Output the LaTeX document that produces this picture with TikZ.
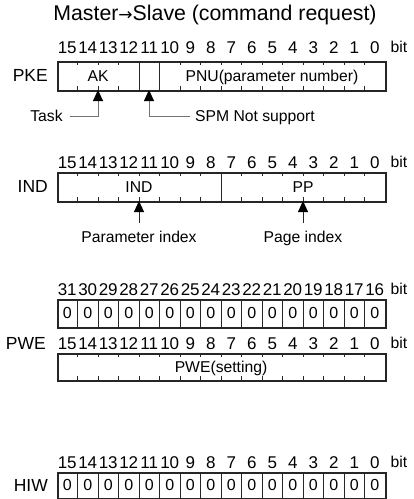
\documentclass[tikz,border=0pt]{standalone}
\usepackage{fontspec}
\setmainfont{Liberation Sans}
\newfontfamily\mysymfont{DejaVu Sans}
\usetikzlibrary{arrows.meta}
\newcommand\mybitrow[3]{% y, offset, name prefix
  \foreach \i in {0,...,15}{
    \pgfmathtruncatemacro\num{\i+#2}
    \node[bitnum] (#3\i) at ({57+20.5*(15.5-\i)},#1) {\num};
  }
  \node[lbl] (#3bit) at (399,#1) {bit};
}
\newcommand\myticks[2]{% top y, bottom y
  \foreach \k in {1,...,15}{
    \draw[divider] ({57+20.5*\k},#1) -- ++(0,4);
    \draw[divider] ({57+20.5*\k},#2) -- ++(0,-4);
  }
}
\newcommand\myzeros[3]{% top y, bottom y, prefix
  \foreach \k in {1,...,15}{
    \draw[divider] ({57+20.5*\k},#1) -- ({57+20.5*\k},#2);
  }
  \foreach \i in {0,...,15}{
    \node[zero] (#3\i) at ({57+20.5*(15.5-\i)},{(#1+#2)/2}) {0};
  }
}
\begin{document}
\begin{tikzpicture}[x=1pt,y=-1pt,
  txt/.style={inner sep=0pt, text=black},
  bitnum/.style={txt, font=\fontsize{17}{17}\selectfont, text height=12.1pt, text depth=0pt},
  zero/.style={txt, font=\fontsize{16}{16}\selectfont, text height=11.4pt, text depth=0pt},
  lbl/.style={txt, font=\fontsize{15.7}{16}\selectfont, text height=11.2pt, text depth=0pt},
  reg/.style={txt, font=\fontsize{17.5}{18}\selectfont, text height=12.5pt, text depth=0pt, anchor=east},
  frame/.style={draw=black!85, line width=1.5pt, inner sep=0pt, anchor=north west, minimum width=328pt},
  divider/.style={draw=black!85, line width=1pt},
  conn/.style={draw=black!55, line width=0.9pt},
  darkconn/.style={draw=black!85, line width=0.9pt},
  pointer/.style={-{Triangle[width=10pt,length=11pt,color=black]}},
]
\useasboundingbox (0,0) rectangle (414,499);

% title
\node[txt, font=\fontsize{21.3}{22}\selectfont] (title) at (215,15) {Master{\mysymfont\fontsize{17}{17}\selectfont →}Slave (command request)};

% ---------- PKE ----------
\mybitrow{47}{0}{pkeb}
\node[frame, minimum height=29pt] (pkebox) at (57,61) {};
\myticks{61}{90}
\draw[divider] (139,61) -- (139,90);
\draw[divider] (159.5,61) -- (159.5,90);
\node[reg] (pke) at (48,75.5) {PKE};
\node[lbl] (ak) at (98,75.5) {AK};
\node[lbl] (pnu) at (272,75.5) {PNU(parameter number)};
\coordinate (pkeT) at (98,90);
\coordinate (pkeS) at (149,90);
\node[lbl, inner xsep=7pt] (task) at (46.5,116) {Task};
\node[lbl, inner xsep=5pt] (spm) at (255,116) {SPM Not support};
\draw[conn, pointer] (task.east) -| (pkeT);
\draw[conn, pointer] (spm.west) -| (pkeS);

% ---------- IND ----------
\mybitrow{162}{0}{indb}
\node[frame, minimum height=29pt] (indbox) at (57,172) {};
\myticks{172}{201}
\draw[divider] (221,172) -- (221,201);
\node[reg] (ind) at (48,186.5) {IND};
\node[lbl] (indt) at (139,186.5) {IND};
\node[lbl] (pp) at (303,186.5) {PP};
\coordinate (indP) at (139,201);
\coordinate (indG) at (303,201);
\node[lbl, inner ysep=8.5pt] (pidx) at (139,237) {Parameter index};
\node[lbl, inner ysep=8.5pt] (gidx) at (303,237) {Page index};
\draw[darkconn, pointer] (pidx.north) -- (indP);
\draw[darkconn, pointer] (gidx.north) -- (indG);

% ---------- PWE ----------
\mybitrow{289}{16}{pwehb}
\node[frame, minimum height=28pt] (pwehbox) at (57,299) {};
\myzeros{299}{327}{pwehz}
\node[reg] (pwe) at (46,343) {PWE};
\mybitrow{343}{0}{pwelb}
\node[frame, minimum height=27pt] (pwelbox) at (57,353) {};
\myticks{353}{380}
\node[lbl] (pweset) at (221,366.5) {PWE(setting)};

% ---------- HIW ----------
\mybitrow{462}{0}{hiwb}
\node[frame, minimum height=26pt] (hiwbox) at (57,472) {};
\myzeros{472}{498}{hiwz}
\node[reg] (hiw) at (48,485) {HIW};
\end{tikzpicture}
\end{document}
